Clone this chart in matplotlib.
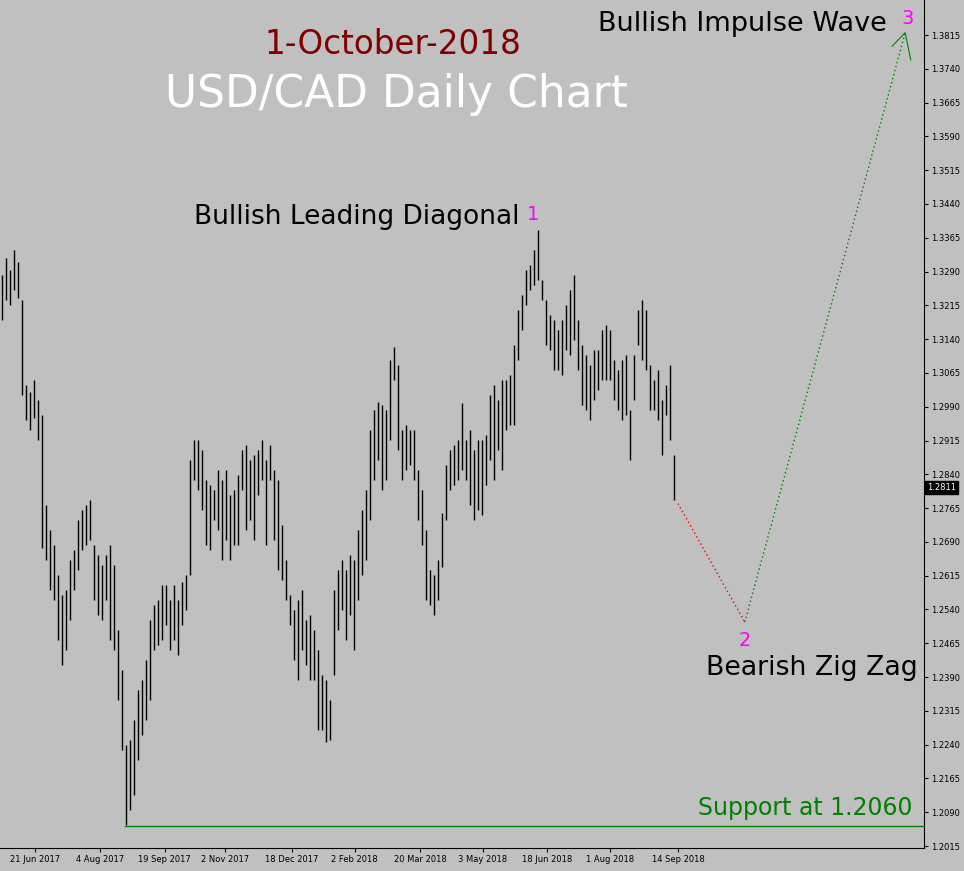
"""USD/CAD daily bar chart with Elliott wave projection."""

import matplotlib
matplotlib.use('Agg')
import matplotlib.pyplot as plt
import numpy as np

highs = [
    1.3282, 1.3320, 1.3293, 1.3338, 1.3311, 1.3227, 1.3038, 1.3023, 1.3049, 1.3005,
    1.2971, 1.2772, 1.2716, 1.2683, 1.2616, 1.2572, 1.2583, 1.2649, 1.2672, 1.2738,
    1.2760, 1.2772, 1.2783, 1.2683, 1.2660, 1.2638, 1.2660, 1.2683, 1.2638, 1.2494,
    1.2405, 1.2239, 1.2250, 1.2294, 1.2361, 1.2383, 1.2427, 1.2516, 1.2549, 1.2561,
    1.2594, 1.2594, 1.2561, 1.2594, 1.2561, 1.2601, 1.2616, 1.2871, 1.2916, 1.2916,
    1.2894, 1.2827, 1.2816, 1.2805, 1.2849, 1.2827, 1.2849, 1.2794, 1.2805, 1.2838,
    1.2894, 1.2905, 1.2871, 1.2883, 1.2894, 1.2916, 1.2871, 1.2905, 1.2849, 1.2827,
    1.2727, 1.2649, 1.2572, 1.2538, 1.2561, 1.2583, 1.2516, 1.2527, 1.2494, 1.2450,
    1.2394, 1.2383, 1.2339, 1.2583, 1.2627, 1.2649, 1.2627, 1.2660, 1.2649, 1.2716,
    1.2760, 1.2805, 1.2938, 1.2982, 1.3000, 1.2994, 1.2982, 1.3093, 1.3122, 1.3082,
    1.2938, 1.2949, 1.2938, 1.2938, 1.2849, 1.2805, 1.2716, 1.2627, 1.2616, 1.2649,
    1.2754, 1.2860, 1.2894, 1.2905, 1.2916, 1.2998, 1.2916, 1.2938, 1.2894, 1.2916,
    1.2916, 1.2927, 1.3016, 1.3038, 1.3005, 1.3049, 1.3049, 1.3060, 1.3127, 1.3204,
    1.3238, 1.3293, 1.3304, 1.3338, 1.3382, 1.3271, 1.3227, 1.3193, 1.3182, 1.3160,
    1.3182, 1.3216, 1.3249, 1.3282, 1.3182, 1.3127, 1.3104, 1.3082, 1.3116, 1.3116,
    1.3160, 1.3171, 1.3160, 1.3093, 1.3071, 1.3093, 1.3104, 1.2982, 1.3104, 1.3204,
    1.3227, 1.3204, 1.3082, 1.3049, 1.3071, 1.3005, 1.3038, 1.3082, 1.2883,
]
lows = [
    1.3182, 1.3227, 1.3216, 1.3249, 1.3231, 1.3016, 1.2960, 1.2938, 1.2965, 1.2916,
    1.2676, 1.2649, 1.2583, 1.2561, 1.2472, 1.2416, 1.2450, 1.2516, 1.2583, 1.2627,
    1.2672, 1.2683, 1.2694, 1.2561, 1.2527, 1.2516, 1.2561, 1.2472, 1.2450, 1.2339,
    1.2228, 1.2062, 1.2094, 1.2128, 1.2205, 1.2261, 1.2294, 1.2339, 1.2450, 1.2461,
    1.2472, 1.2505, 1.2450, 1.2472, 1.2439, 1.2505, 1.2538, 1.2616, 1.2827, 1.2805,
    1.2760, 1.2683, 1.2672, 1.2738, 1.2716, 1.2649, 1.2694, 1.2649, 1.2683, 1.2683,
    1.2805, 1.2716, 1.2738, 1.2694, 1.2794, 1.2827, 1.2683, 1.2827, 1.2694, 1.2627,
    1.2605, 1.2561, 1.2505, 1.2427, 1.2383, 1.2450, 1.2416, 1.2383, 1.2383, 1.2272,
    1.2272, 1.2245, 1.2250, 1.2394, 1.2494, 1.2538, 1.2472, 1.2527, 1.2450, 1.2561,
    1.2616, 1.2649, 1.2738, 1.2827, 1.2871, 1.2805, 1.2827, 1.2916, 1.3049, 1.2894,
    1.2827, 1.2849, 1.2860, 1.2827, 1.2738, 1.2683, 1.2561, 1.2549, 1.2527, 1.2561,
    1.2634, 1.2738, 1.2805, 1.2816, 1.2827, 1.2849, 1.2827, 1.2772, 1.2738, 1.2760,
    1.2749, 1.2816, 1.2871, 1.2827, 1.2894, 1.2849, 1.2938, 1.2949, 1.2949, 1.3093,
    1.3160, 1.3216, 1.3249, 1.3260, 1.3271, 1.3227, 1.3127, 1.3116, 1.3071, 1.3071,
    1.3060, 1.3116, 1.3104, 1.3138, 1.3071, 1.2994, 1.2982, 1.2960, 1.3005, 1.3027,
    1.3049, 1.3049, 1.3049, 1.3005, 1.2982, 1.2960, 1.2971, 1.2871, 1.3005, 1.3127,
    1.3093, 1.3071, 1.2982, 1.2982, 1.2960, 1.2883, 1.2971, 1.2916, 1.2783,
]

date_labels = ['21 Jun 2017', '4 Aug 2017', '19 Sep 2017', '2 Nov 2017',
               '18 Dec 2017', '2 Feb 2018', '20 Mar 2018', '3 May 2018',
               '18 Jun 2018', '1 Aug 2018', '14 Sep 2018']
date_positions = [8.2, 24.5, 40.7, 55.7, 72.5, 88.2, 104.5, 120.2, 136.2, 152.0, 169.0]

last_price = 1.2811
support = 1.2060
support_start = 30.8
# projected wave path: end of bars -> wave 2 -> wave 3
wave2_x = [169.0, 185.7]
wave2_y = [1.2775, 1.2512]
wave3_x = [185.7, 225.8]
wave3_y = [1.2512, 1.3820]

y_ticks = np.round(np.arange(1.2015, 1.3816, 0.0075), 4)

bg = '#c0c0c0'
fig = plt.figure(figsize=(9.64, 8.71), dpi=100, facecolor=bg)
ax = fig.add_axes([0.0, 23 / 871, 924 / 964, 848 / 871], facecolor=bg)

x = np.arange(len(highs))
ax.vlines(x, lows, highs, color='black', linewidth=1.0)

ax.plot([support_start, 231], [support, support], color='green', linewidth=1.0)
ax.plot(wave2_x, wave2_y, color='red', linestyle=(0, (1, 2)), linewidth=1.0)
ax.plot(wave3_x, wave3_y, color='green', linestyle=(0, (1, 2)), linewidth=1.0)
# open arrow head at wave 3
ax.plot([222.5, wave3_x[1], 227.2], [1.3790, wave3_y[1], 1.3760],
        color='green', linewidth=0.8)

ax.set_xlim(-0.5, 230.5)
ax.set_ylim(1.20106, 1.38927)
ax.yaxis.tick_right()
ax.set_yticks(y_ticks)
ax.set_yticklabels([f'{v:.4f}' for v in y_ticks], fontsize=6)
ax.set_xticks(date_positions)
ax.set_xticklabels(date_labels, fontsize=6)
ax.tick_params(length=3, pad=2)
for side in ['top', 'left']:
    ax.spines[side].set_visible(False)

ax.text(231.2, last_price, f'{last_price:.4f}', color='white', fontsize=6,
        va='center', ha='left', clip_on=False,
        bbox=dict(facecolor='black', edgecolor='black', pad=1.5))

fig.text(912 / 964, 1 - 808 / 871, 'Support at 1.2060', color='#008000',
         fontsize=17, ha='right', va='center')
fig.text(393 / 964, 1 - 45 / 871, '1-October-2018', color='#800000', fontsize=23.5,
         ha='center', va='center')
fig.text(396 / 964, 1 - 95 / 871, 'USD/CAD Daily Chart', color='white', fontsize=31.6,
         ha='center', va='center')
fig.text(520 / 964, 1 - 217 / 871, 'Bullish Leading Diagonal', color='black',
         fontsize=19, ha='right', va='center')
fig.text(533 / 964, 1 - 215 / 871, '1', color='magenta', fontsize=14,
         ha='center', va='center')
fig.text(887 / 964, 1 - 24 / 871, 'Bullish Impulse Wave', color='black',
         fontsize=19.5, ha='right', va='center')
fig.text(908 / 964, 1 - 18 / 871, '3', color='magenta', fontsize=14,
         ha='center', va='center')
fig.text(745 / 964, 1 - 640 / 871, '2', color='magenta', fontsize=14,
         ha='center', va='center')
fig.text(918 / 964, 1 - 668 / 871, 'Bearish Zig Zag', color='black',
         fontsize=19.3, ha='right', va='center')

fig.savefig('out.png', dpi=100, facecolor=bg)
